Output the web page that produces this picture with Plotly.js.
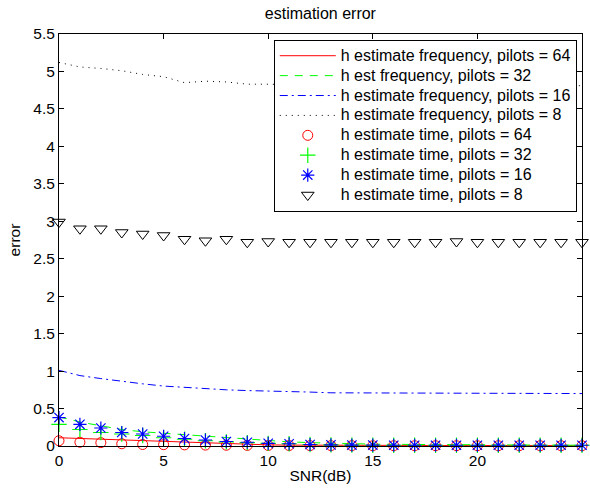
<!DOCTYPE html>
<html>
<head>
<meta charset="utf-8">
<script src="https://cdn.plot.ly/plotly-3.0.1.min.js"></script>
<style>html,body{margin:0;padding:0;background:#fff;}</style>
</head>
<body>
<div id="chart" style="width:590px;height:489px;"></div>
<script>
const snr = [0,1,2,3,4,5,6,7,8,9,10,11,12,13,14,15,16,17,18,19,20,21,22,23,24,25];

const freq64 = [0.11,0.10,0.09,0.08,0.07,0.055,0.045,0.035,0.03,0.02,0.015,0.012,0.01,0.009,0.008,0.008,0.007,0.007,0.006,0.006,0.006,0.005,0.005,0.005,0.005,0.005];
const freq32 = [0.39,0.32,0.27,0.22,0.19,0.17,0.15,0.13,0.11,0.09,0.07,0.055,0.045,0.035,0.03,0.025,0.022,0.02,0.02,0.018,0.015,0.015,0.012,0.012,0.01,0.01];
const freq16 = [1.01,0.94,0.90,0.86,0.83,0.80,0.78,0.76,0.75,0.74,0.73,0.72,0.72,0.71,0.71,0.71,0.71,0.705,0.705,0.70,0.70,0.70,0.70,0.70,0.70,0.70];
const freq8  = [5.12,5.06,5.04,5.01,4.96,4.93,4.85,4.87,4.86,4.83,4.83,4.82,4.82,4.81,4.81,4.81,4.81,4.80,4.80,4.81,4.80,4.80,4.81,4.80,4.81,4.81];

const time64 = [0.07,0.05,0.045,0.03,0.02,0.018,0.015,0.012,0.01,0.008,0.007,0.006,0.005,0.005,0.005,0.004,0.004,0.004,0.004,0.004,0.004,0.004,0.004,0.004,0.004,0.004];
const time32 = [0.29,0.22,0.18,0.16,0.14,0.11,0.09,0.07,0.055,0.045,0.035,0.03,0.02,0.015,0.012,0.01,0.01,0.01,0.01,0.01,0.01,0.01,0.01,0.01,0.01,0.01];
const time16 = [0.38,0.29,0.24,0.18,0.16,0.13,0.10,0.08,0.06,0.05,0.035,0.03,0.02,0.015,0.012,0.012,0.01,0.01,0.01,0.01,0.01,0.01,0.01,0.01,0.01,0.01];
const time8  = [2.99,2.90,2.90,2.85,2.83,2.81,2.76,2.74,2.76,2.72,2.73,2.72,2.72,2.72,2.72,2.72,2.72,2.72,2.72,2.73,2.72,2.72,2.72,2.72,2.72,2.72];

const names = [
  'h estimate frequency, pilots = 64',
  'h est frequency, pilots = 32',
  'h estimate frequency, pilots = 16',
  'h estimate frequency, pilots = 8',
  'h estimate time, pilots = 64',
  'h estimate time, pilots = 32',
  'h estimate time, pilots = 16',
  'h estimate time, pilots = 8'
];
const lbl = s => '<span style="font-size:16px">' + s + '</span>';

const traces = [
  {x: snr, y: freq64, name: lbl(names[0]), mode: 'lines', line: {color: '#ff0000', width: 1}},
  {x: snr, y: freq32, name: lbl(names[1]), mode: 'lines', line: {color: '#00ff00', width: 1, dash: '8px,7px'}},
  {x: snr, y: freq16, name: lbl(names[2]), mode: 'lines', line: {color: '#0000ff', width: 1, dash: '8px,4px,2px,4px'}},
  {x: snr, y: freq8,  name: lbl(names[3]), mode: 'lines', line: {color: '#000000', width: 1, dash: '1px,5px'}},
  {x: snr, y: time64, name: lbl(names[4]), mode: 'markers', cliponaxis: false,
   marker: {symbol: 'circle-open', size: 10, color: '#ff0000', line: {width: 1, color: '#ff0000'}}},
  {x: snr, y: time32, name: lbl(names[5]), mode: 'markers', cliponaxis: false,
   marker: {symbol: 'cross-thin-open', size: 11, color: '#00ff00', line: {width: 1.2, color: '#00ff00'}}},
  {x: snr, y: time16, name: lbl(names[6]), mode: 'markers', cliponaxis: false,
   marker: {symbol: 'asterisk-open', size: 11, color: '#0000ff', line: {width: 1.2, color: '#0000ff'}}},
  {x: snr, y: time8, name: lbl(names[7]), mode: 'markers', cliponaxis: false,
   marker: {symbol: 'triangle-down-open', size: 11, color: '#000000', line: {width: 1, color: '#000000'}}}
];

const fam = 'Liberation Sans, Arial, sans-serif';

const layout = {
  width: 590, height: 489,
  margin: {l: 59, r: 8, t: 34, b: 43},
  paper_bgcolor: '#fff', plot_bgcolor: '#fff',
  font: {family: fam, size: 16, color: '#000'},
  showlegend: true,
  title: {text: 'estimation error', font: {family: fam, size: 16, color: '#000'}, x: 0.543, xanchor: 'center', y: 0.972, yanchor: 'middle'},
  xaxis: {
    range: [0, 25], tickvals: [0,5,10,15,20,25], ticktext: ['0','5','10','15','20','25'],
    ticks: 'inside', ticklen: 5, tickcolor: '#000', mirror: 'ticks', showline: true, linecolor: '#000', linewidth: 1,
    showgrid: false, zeroline: false, tickfont: {family: fam, size: 15.5, color: '#000'},
    title: {text: 'SNR(dB)', font: {family: fam, size: 15.5, color: '#000'}, standoff: 2}
  },
  yaxis: {
    range: [0, 5.5], tickvals: [0,0.5,1,1.5,2,2.5,3,3.5,4,4.5,5,5.5],
    ticktext: ['0','0.5','1','1.5','2','2.5','3','3.5','4','4.5','5','5.5'],
    ticks: 'inside', ticklen: 5, tickcolor: '#000', mirror: 'ticks', showline: true, linecolor: '#000', linewidth: 1,
    showgrid: false, zeroline: false, tickfont: {family: fam, size: 15.5, color: '#000'},
    title: {text: 'error', font: {family: fam, size: 15.5, color: '#000'}, standoff: 8}
  },
  legend: {
    x: 0.99, xanchor: 'right', y: 0.986, yanchor: 'top',
    bgcolor: '#fff', bordercolor: '#000', borderwidth: 1,
    font: {family: fam, size: 13, color: '#000'},
    itemwidth: 56, tracegroupgap: 0, traceorder: 'normal'
  }
};

Plotly.newPlot('chart', traces, layout, {displayModeBar: false, staticPlot: true});
</script>
</body>
</html>
